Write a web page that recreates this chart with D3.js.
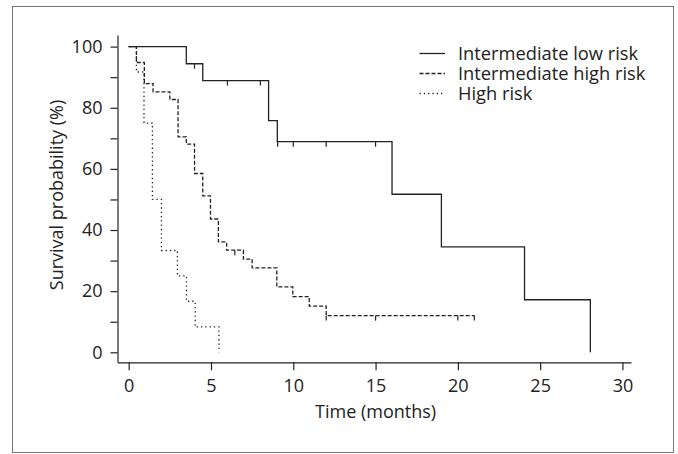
<!DOCTYPE html>
<html><head><meta charset="utf-8">
<script src="https://cdn.jsdelivr.net/npm/d3@7"></script>
<style>
html,body{margin:0;padding:0;background:#fff;}
svg{display:block;}
text{font-family:"Open Sans",sans-serif;fill:#222;}
</style></head>
<body>
<script>
// ---- data ----
const seriesNames = ["Intermediate low risk", "Intermediate high risk", "High risk"];
const lowTimes = [0, 3.5, 4.5, 8.5, 9.03, 16.0, 19.0, 24.05, 28.05];
const lowSurv  = [100, 94.4, 88.9, 75.8, 68.9, 51.7, 34.5, 17.2, 0];
const lowCensor = [4.0, 6.0, 8.0, 9.05, 10.0, 12.0, 15.0];

const ihTimes = [0, 0.47, 0.95, 1.48, 2.5, 3.0, 3.5, 4.0, 4.5, 4.97, 5.45, 5.95, 6.97, 7.5, 9.0, 9.97, 10.97, 12.0];
const ihSurv  = [100, 94.8, 87.9, 85.2, 82.7, 70.5, 68.1, 58.5, 51.2, 43.6, 36.1, 33.4, 30.5, 27.6, 21.4, 18.2, 15.1, 12.0];
const ihCensor = [6.45, 12.0, 15.0, 20.0, 21.0];

const hiTimes = [0, 0.47, 0.93, 1.44, 1.99, 2.96, 3.51, 4.04, 5.48];
const hiSurv  = [100, 91.7, 75, 50, 33.3, 25, 16.7, 8.3, 0];
const hiCensor = [];

const xTicks = [0, 5, 10, 15, 20, 25, 30];
const yTicks = [0, 10, 20, 30, 40, 50, 60, 70, 80, 90, 100];
const yLabels = [0, 20, 40, 60, 80, 100];

// ---- drawing ----
const W = 678, H = 454;
const svg = d3.select("body").append("svg").attr("width", W).attr("height", H);

svg.append("rect").attr("x", 12.5).attr("y", 6.5).attr("width", 661).attr("height", 446)
  .attr("fill", "none").attr("stroke", "#777").attr("stroke-width", 1);

const x = d3.scaleLinear().domain([-0.68, 30.52]).range([117.5, 631]);
const y = d3.scaleLinear().domain([-3.27, 103.8]).range([362.3, 35]);

const ink = "#222";
const fs = 18;

const xAxis = svg.append("g").attr("transform", "translate(0,362.3)")
  .call(d3.axisBottom(x).tickValues(xTicks).tickSize(8).tickSizeOuter(0).tickPadding(8.5));
const yAxis = svg.append("g").attr("transform", "translate(117.5,0)")
  .call(d3.axisLeft(y).tickValues(yTicks).tickSize(7).tickSizeOuter(0).tickPadding(8)
    .tickFormat(d => yLabels.includes(d) ? d : ""));
[xAxis, yAxis].forEach(g => {
  g.selectAll("path,line").attr("stroke", ink).attr("stroke-width", 1.2);
  g.selectAll("text").attr("font-size", fs).attr("font-family", "Open Sans").attr("fill", ink);
});

svg.append("text").attr("x", x(15)).attr("y", 418).attr("text-anchor", "middle")
  .attr("font-size", fs).text("Time (months)");
svg.append("text").attr("transform", `translate(63,195) rotate(-90)`)
  .attr("text-anchor", "middle").attr("font-size", fs).text("Survival probability (%)");

const styles = [
  {dash: null},
  {dash: "4,2"},
  {dash: "1.3,3"}
];

function buildPts(times, surv, censor) {
  const pts = times.map((t, i) => [t, surv[i]]);
  const lastT = Math.max(times[times.length - 1], ...(censor.length ? censor : [0]));
  if (lastT > times[times.length - 1]) pts.push([lastT, surv[surv.length - 1]]);
  return pts;
}
function survAt(times, surv, t) {
  let s = surv[0];
  for (let i = 0; i < times.length; i++) if (times[i] <= t) s = surv[i];
  return s;
}

const line = d3.line().x(d => x(d[0])).y(d => y(d[1])).curve(d3.curveStepAfter);
const series = [
  {times: lowTimes, surv: lowSurv, censor: lowCensor, st: styles[0]},
  {times: ihTimes, surv: ihSurv, censor: ihCensor, st: styles[1]},
  {times: hiTimes, surv: hiSurv, censor: hiCensor, st: styles[2]}
];

// draw high risk first, low risk on top
series.slice().reverse().forEach(s => {
  const g = svg.append("g");
  g.append("path").attr("d", line(buildPts(s.times, s.surv, s.censor)))
    .attr("fill", "none").attr("stroke", ink).attr("stroke-width", 1.3)
    .attr("stroke-dasharray", s.st.dash);
  g.selectAll("line.c").data(s.censor).enter().append("line")
    .attr("x1", d => x(d)).attr("x2", d => x(d))
    .attr("y1", d => y(survAt(s.times, s.surv, d)))
    .attr("y2", d => y(survAt(s.times, s.surv, d)) + 5)
    .attr("stroke", ink).attr("stroke-width", 1.2);
});

// legend
const lg = svg.append("g");
seriesNames.forEach((n, i) => {
  const cy = 53.5 + i * 20;
  lg.append("line").attr("x1", 419.5).attr("x2", 445).attr("y1", cy).attr("y2", cy)
    .attr("stroke", ink).attr("stroke-width", 1.3).attr("stroke-dasharray", styles[i].dash);
  lg.append("text").attr("x", 458).attr("y", cy + 6.5).attr("font-size", 18.3).text(n);
});
</script>
</body></html>
